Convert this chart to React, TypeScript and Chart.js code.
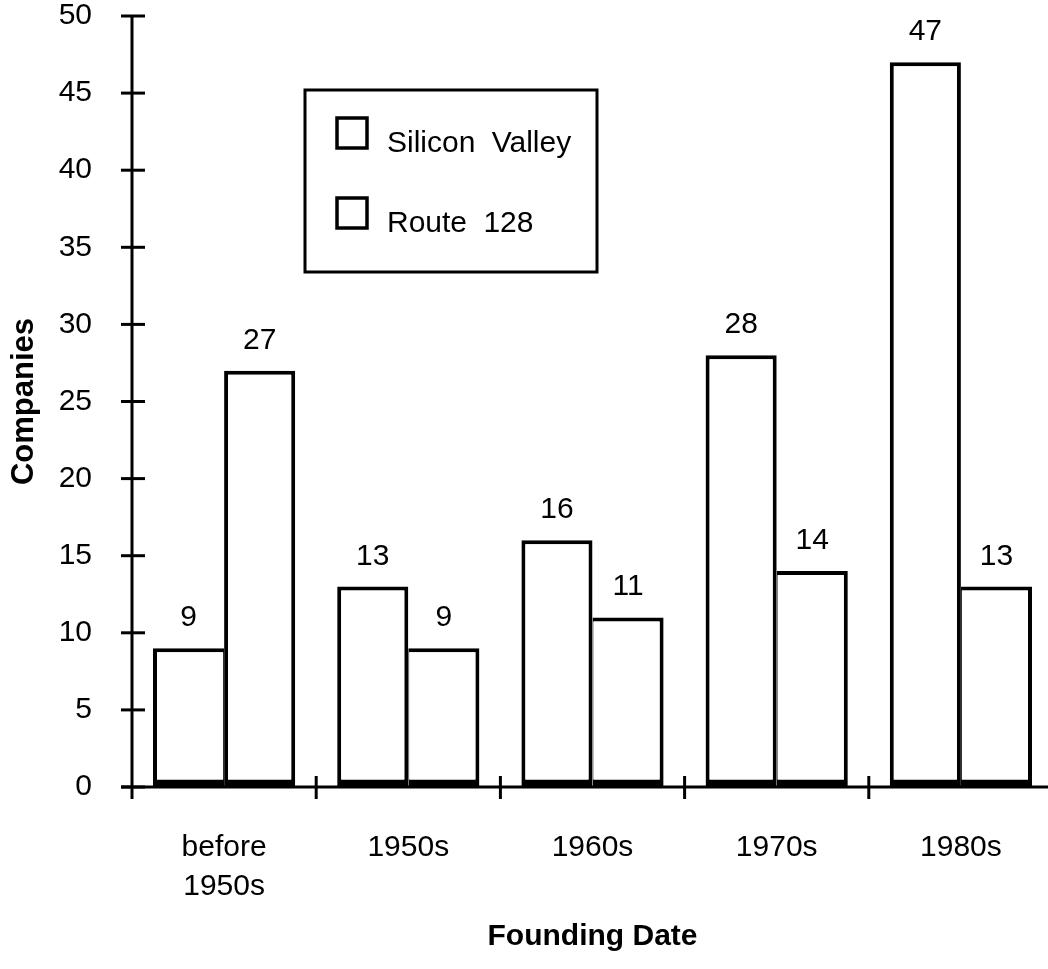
import React, { useEffect, useRef } from "react";
import { Chart, registerables } from "chart.js";

Chart.register(...registerables);

const categories: (string | string[])[] = [["before", "1950s"], "1950s", "1960s", "1970s", "1980s"];
const siliconValley = [9, 13, 16, 28, 47];
const route128 = [27, 9, 11, 14, 13];
const seriesNames = ["Silicon Valley", "Route 128"];
const yMin = 0;
const yMax = 50;
const yStep = 5;
const xTitle = "Founding Date";
const yTitle = "Companies";

const FONT = "'Liberation Sans', Arial, Helvetica, sans-serif";

const axesPlugin = {
  id: "customAxes",
  afterDatasetsDraw(chart: any) {
    const { ctx, chartArea, scales } = chart;
    const x = scales.x;
    const y = scales.y;
    ctx.save();
    ctx.strokeStyle = "#000";
    ctx.lineWidth = 3;
    ctx.lineCap = "butt";
    const left = chartArea.left;
    const bottom = y.getPixelForValue(yMin);
    const top = y.getPixelForValue(yMax);
    // y axis line
    ctx.beginPath();
    ctx.moveTo(left, top - 1);
    ctx.lineTo(left, bottom + 12);
    ctx.stroke();
    // y ticks
    for (let v = yMin; v <= yMax; v += yStep) {
      const py = y.getPixelForValue(v);
      ctx.beginPath();
      ctx.moveTo(left - 11, py);
      ctx.lineTo(left + 13, py);
      ctx.stroke();
    }
    // x axis line
    ctx.beginPath();
    ctx.moveTo(left - 11, bottom);
    ctx.lineTo(chart.width, bottom);
    ctx.stroke();
    // category boundary ticks
    const catW = x.width / categories.length;
    for (let i = 1; i <= categories.length; i++) {
      const px = x.getPixelForValue(i) - catW / 2;
      ctx.beginPath();
      ctx.moveTo(px, bottom - 11);
      ctx.lineTo(px, bottom + 12);
      ctx.stroke();
    }
    // value labels
    ctx.fillStyle = "#000";
    ctx.font = `30px ${FONT}`;
    ctx.textAlign = "center";
    ctx.textBaseline = "alphabetic";
    chart.data.datasets.forEach((ds: any, di: number) => {
      const meta = chart.getDatasetMeta(di);
      meta.data.forEach((bar: any, i: number) => {
        ctx.fillText(String(ds.data[i]), bar.x, bar.y - 22);
      });
    });
    // legend
    const lx = left + 173;
    const ly = top + 74;
    ctx.lineWidth = 3;
    ctx.strokeRect(lx, ly, 292, 182);
    ctx.font = `30px ${FONT}`;
    ctx.textAlign = "left";
    ctx.textBaseline = "alphabetic";
    try {
      (ctx as any).wordSpacing = "8px";
    } catch (e) {}
    seriesNames.forEach((name, i) => {
      const sy = ly + 28 + i * 80;
      ctx.lineWidth = 3.5;
      ctx.strokeRect(lx + 32, sy, 30, 30);
      ctx.fillText(name, lx + 82, sy + 34);
    });
    ctx.restore();
  },
};

export default function App() {
  const ref = useRef<HTMLCanvasElement | null>(null);
  useEffect(() => {
    if (!ref.current) return;
    Chart.defaults.font.family = FONT;
    Chart.defaults.color = "#000";
    const chart = new Chart(ref.current, {
      type: "bar",
      data: {
        labels: categories as any,
        datasets: [
          {
            label: seriesNames[0],
            data: siliconValley,
            backgroundColor: "#fff",
            borderColor: "#000",
            borderWidth: (c: any) => ({
              top: 4,
              left: 4,
              right: siliconValley[c.dataIndex] >= route128[c.dataIndex] ? 4 : 1,
              bottom: 7,
            }),
            borderSkipped: false,
          },
          {
            label: seriesNames[1],
            data: route128,
            backgroundColor: "#fff",
            borderColor: "#000",
            borderWidth: (c: any) => ({
              top: 4,
              left: route128[c.dataIndex] > siliconValley[c.dataIndex] ? 4 : 1,
              right: 4,
              bottom: 7,
            }),
            borderSkipped: false,
          },
        ],
      },
      options: {
        animation: false,
        responsive: false,
        maintainAspectRatio: false,
        layout: { padding: { top: 16, right: 7, left: 0, bottom: 0 } },
        categoryPercentage: 0.772,
        barPercentage: 1.0,
        plugins: {
          legend: { display: false },
          tooltip: { enabled: false },
        },
        scales: {
          x: {
            offset: true,
            grid: { display: false },
            border: { display: false },
            ticks: {
              font: { size: 30, lineHeight: 1.3 },
              padding: 33,
              maxRotation: 0,
              autoSkip: false,
            },
            title: {
              display: true,
              text: xTitle,
              font: { size: 30, weight: "bold", lineHeight: 1.2 },
              padding: { top: 0, bottom: 14 },
            },
            afterFit: (scale: any) => {
              scale.height = 182;
            },
          },
          y: {
            min: yMin,
            max: yMax,
            grid: {
              display: true,
              drawOnChartArea: false,
              drawTicks: true,
              tickLength: 40,
              color: "rgba(0,0,0,0)",
            },
            border: { display: false },
            ticks: {
              stepSize: yStep,
              font: { size: 30, lineHeight: 1 },
              padding: 0,
              autoSkip: false,
            },
            title: {
              display: true,
              text: yTitle,
              font: { size: 31, weight: "bold", lineHeight: 1.2 },
              padding: { top: 6, bottom: 0 },
            },
            afterFit: (scale: any) => {
              scale.width = 132;
            },
          },
        },
      },
      plugins: [axesPlugin],
    } as any);
    return () => chart.destroy();
  }, []);
  return (
    <div style={{ position: "fixed", left: 0, top: 0, width: 1060, height: 969, background: "#fff" }}>
      <canvas ref={ref} width={1060} height={969} style={{ display: "block" }} />
    </div>
  );
}
